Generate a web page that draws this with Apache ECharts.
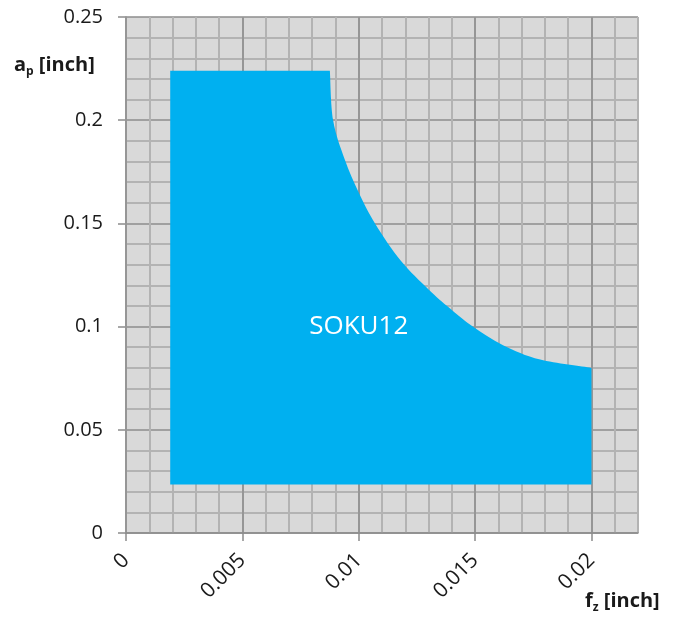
<!DOCTYPE html>
<html>
<head>
<meta charset="utf-8">
<script src="https://cdn.jsdelivr.net/npm/echarts@6/dist/echarts.min.js"></script>
<style>html,body{margin:0;padding:0;background:#fff;}#c{width:675px;height:617px;}</style>
</head>
<body>
<div id="c"></div>
<script>
// Outline of the SOKU12 working region (fz, ap)
// straight part: bottom-left -> top-left -> start of curve
var edgeFz = [0.0019, 0.0019];
var edgeAp = [0.0235, 0.224];
// curved upper-right boundary
var curveFz = [0.00876, 0.0089, 0.0094, 0.0100, 0.0107, 0.0118, 0.0130, 0.0139, 0.0149, 0.0162, 0.0178, 0.0200];
var curveAp = [0.224, 0.200, 0.181, 0.165, 0.150, 0.132, 0.118, 0.109, 0.100, 0.091, 0.084, 0.080];
// closing edge: bottom-right
var endFz = [0.0200];
var endAp = [0.0235];
var regionName = 'SOKU12';
var regionLabelPos = [0.0100, 0.1000];
var xTicks = [0, 0.005, 0.01, 0.015, 0.02];
var yTicks = [0, 0.05, 0.1, 0.15, 0.2, 0.25];
var xName = ['f', 'z', ' [inch]'];
var yName = ['a', 'p', ' [inch]'];

var chart = echarts.init(document.getElementById('c'), null, {renderer: 'canvas'});
var FONT = '"Open Sans", sans-serif';
var major = '#8c8c8c', minor = '#b3b3b3';

function catmullPath(p) {
  var d = '';
  for (var i = 0; i < p.length - 1; i++) {
    var p0 = p[i - 1] || p[i], p1 = p[i], p2 = p[i + 1], p3 = p[i + 2] || p[i + 1];
    var c1 = [p1[0] + (p2[0] - p0[0]) / 6, p1[1] + (p2[1] - p0[1]) / 6];
    var c2 = [p2[0] - (p3[0] - p1[0]) / 6, p2[1] - (p3[1] - p1[1]) / 6];
    d += ' C' + c1[0] + ' ' + c1[1] + ' ' + c2[0] + ' ' + c2[1] + ' ' + p2[0] + ' ' + p2[1];
  }
  return d;
}

var nameRich = {
  b: {fontFamily: FONT, fontWeight: 'bold', fontSize: 20, fill: '#1a1a1a'},
  s: {fontFamily: FONT, fontWeight: 'bold', fontSize: 12, fill: '#1a1a1a', verticalAlign: 'bottom', padding: [14, 0, 0, 0]}
};

var option = {
  animation: false,
  grid: {left: 126, top: 17, right: 37, bottom: 84, show: true, backgroundColor: '#d9d9d9', borderWidth: 0},
  xAxis: [
    {
      type: 'value', min: xTicks[0], max: 0.022, interval: xTicks[1] - xTicks[0],
      axisLine: {show: true, lineStyle: {color: major, width: 1.5}},
      axisTick: {show: true, length: 8, lineStyle: {color: major, width: 1.5}},
      axisLabel: {rotate: 45, margin: 24, fontFamily: FONT, fontSize: 21, color: '#1a1a1a', showMaxLabel: false,
        formatter: function (v) { return xTicks.indexOf(+v.toFixed(4)) >= 0 ? String(+v.toFixed(4)) : ''; }},
      splitLine: {show: true, showMaxLine: false, lineStyle: {color: major, width: 1.5}},
      z: 3
    },
    {
      type: 'value', min: 0, max: 0.022, interval: 0.001, position: 'bottom',
      axisLine: {show: false}, axisTick: {show: false}, axisLabel: {show: false},
      splitLine: {show: true, lineStyle: {color: minor, width: 2}},
      z: 1
    }
  ],
  yAxis: {
    type: 'value', min: yTicks[0], max: yTicks[yTicks.length - 1], interval: yTicks[1] - yTicks[0],
    axisLine: {show: true, lineStyle: {color: major, width: 1.5}},
    axisTick: {show: true, length: 8, lineStyle: {color: major, width: 1.5}},
    axisLabel: {margin: 23, fontFamily: FONT, fontSize: 20, color: '#1a1a1a',
      formatter: function (v) { return String(+v.toFixed(4)); }},
    splitLine: {show: true, lineStyle: {color: major, width: 1.5}},
    minorTick: {show: true, splitNumber: 5, length: 0},
    minorSplitLine: {show: true, lineStyle: {color: minor, width: 2}}
  },
  graphic: [
    {type: 'text', left: 14, top: 55, style: {
      text: '{b|' + yName[0] + '}{s|' + yName[1] + '}{b|' + yName[2] + '}', rich: nameRich}},
    {type: 'text', left: 585, top: 591, style: {
      text: '{b|' + xName[0] + '}{s|' + xName[1] + '}{b|' + xName[2] + '}', rich: nameRich}}
  ],
  series: [{
    type: 'custom',
    xAxisIndex: 0,
    yAxisIndex: 0,
    data: [[regionLabelPos[0], regionLabelPos[1]]],
    z: 5,
    renderItem: function (params, api) {
      var e = edgeFz.map(function (x, i) { return api.coord([x, edgeAp[i]]); });
      var c = curveFz.map(function (x, i) { return api.coord([x, curveAp[i]]); });
      var f = endFz.map(function (x, i) { return api.coord([x, endAp[i]]); });
      var d = 'M' + e[0][0] + ' ' + e[0][1];
      for (var i = 1; i < e.length; i++) d += ' L' + e[i][0] + ' ' + e[i][1];
      d += ' L' + c[0][0] + ' ' + c[0][1];
      d += catmullPath(c);
      for (var j = 0; j < f.length; j++) d += ' L' + f[j][0] + ' ' + f[j][1];
      d += ' Z';
      var lp = api.coord(regionLabelPos);
      return {
        type: 'group',
        children: [
          {type: 'path', shape: {pathData: d}, style: {fill: '#00b0f0', stroke: null}},
          {type: 'text', x: lp[0], y: lp[1], style: {text: regionName, fill: '#ffffff', fontFamily: FONT, fontSize: 26, align: 'center', verticalAlign: 'middle'}}
        ]
      };
    }
  }]
};
chart.setOption(option);
</script>
</body>
</html>
